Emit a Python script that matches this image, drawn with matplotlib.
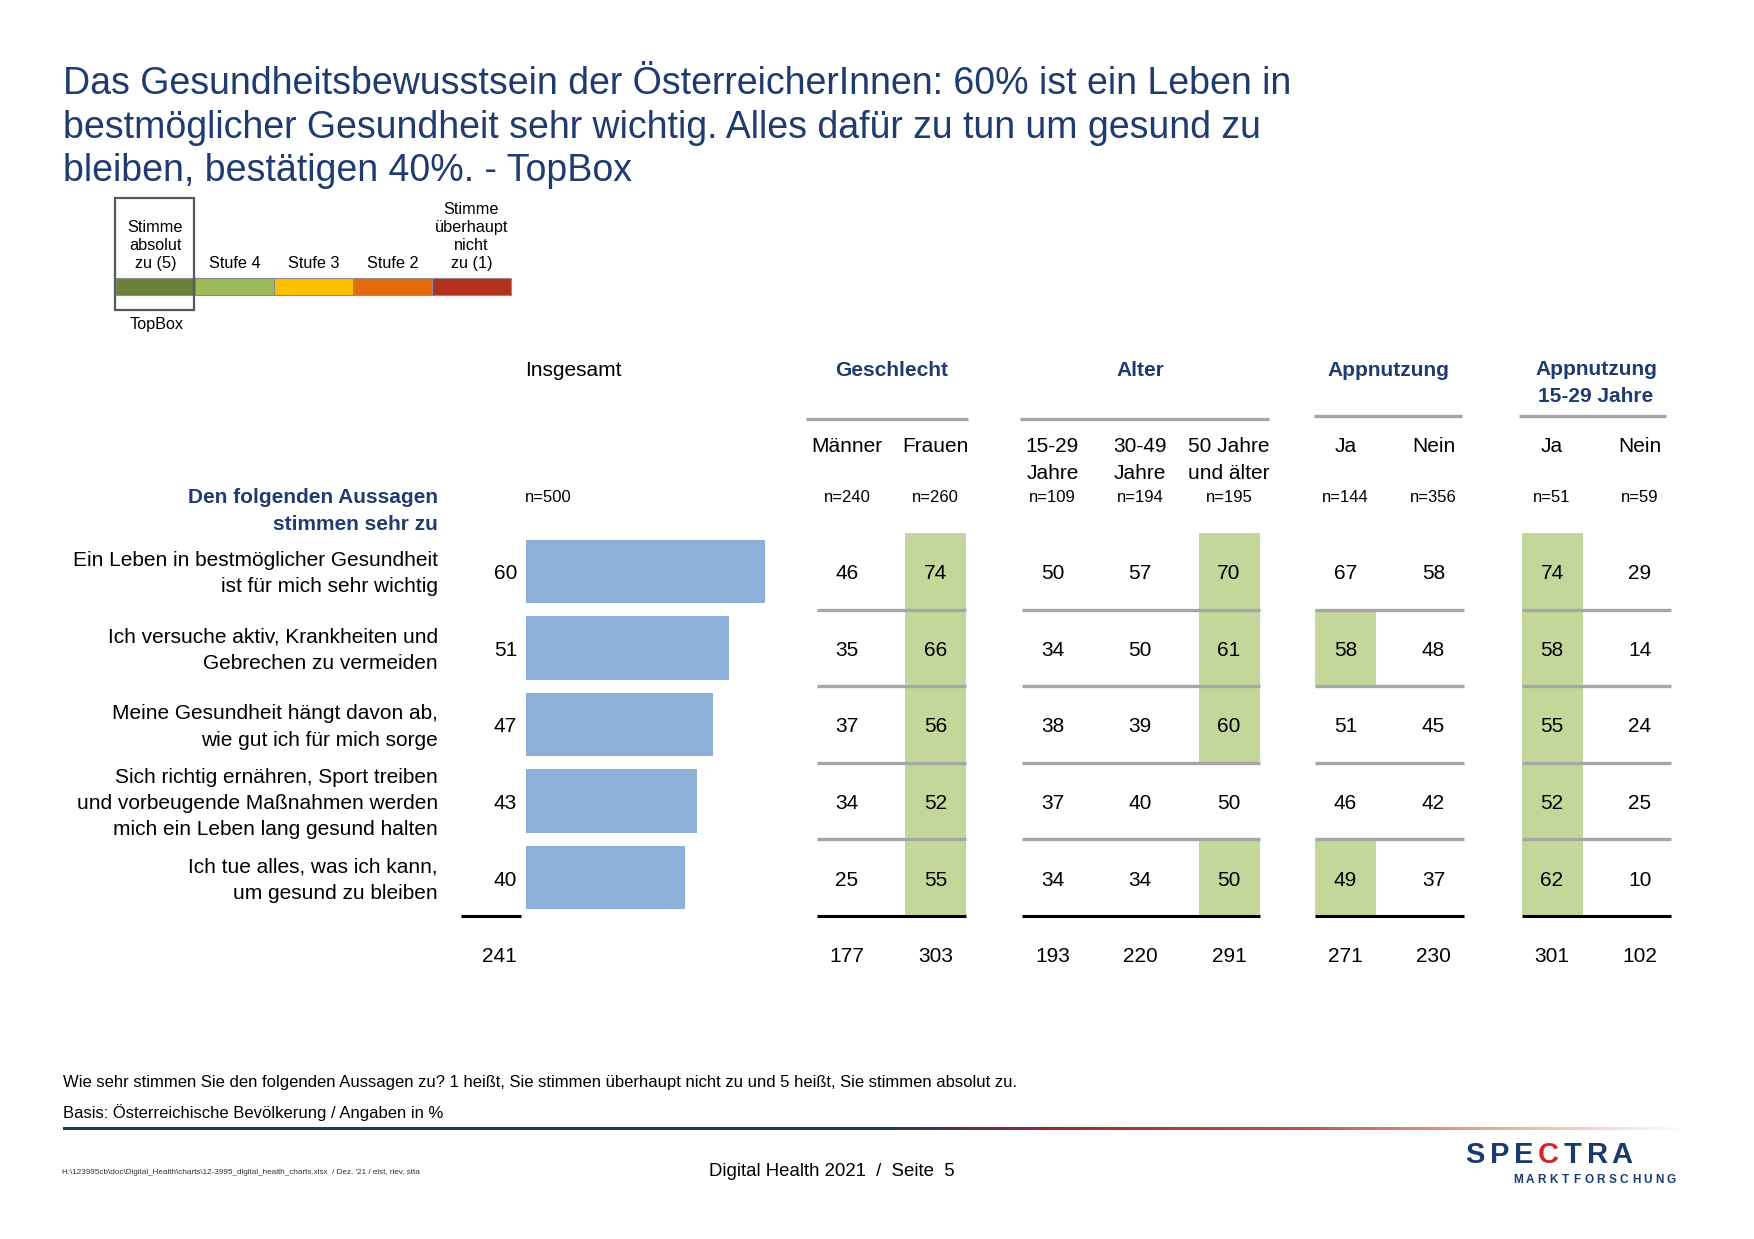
import matplotlib
matplotlib.use("Agg")
import numpy as np
import matplotlib.pyplot as plt
from matplotlib.patches import Rectangle
from matplotlib.colors import LinearSegmentedColormap

plt.rcParams['font.family'] = ['Liberation Sans', 'DejaVu Sans']

# ---------------------------
# Daten
# ---------------------------
title_lines = [
    "Das Gesundheitsbewusstsein der ÖsterreicherInnen: 60% ist ein Leben in",
    "bestmöglicher Gesundheit sehr wichtig. Alles dafür zu tun um gesund zu",
    "bleiben, bestätigen 40%. - TopBox",
]
statements = [
    "Ein Leben in bestmöglicher Gesundheit\nist für mich sehr wichtig",
    "Ich versuche aktiv, Krankheiten und\nGebrechen zu vermeiden",
    "Meine Gesundheit hängt davon ab,\nwie gut ich für mich sorge",
    "Sich richtig ernähren, Sport treiben\nund vorbeugende Maßnahmen werden\nmich ein Leben lang gesund halten",
    "Ich tue alles, was ich kann,\num gesund zu bleiben",
]
insgesamt = [60, 51, 47, 43, 40]
insgesamt_n = 500
insgesamt_sum = 241

col_labels = ["Männer", "Frauen", "15-29\nJahre", "30-49\nJahre", "50 Jahre\nund älter",
              "Ja", "Nein", "Ja", "Nein"]
col_n = [240, 260, 109, 194, 195, 144, 356, 51, 59]
maenner = [46, 35, 37, 34, 25]
frauen = [74, 66, 56, 52, 55]
alter_15_29 = [50, 34, 38, 37, 34]
alter_30_49 = [57, 50, 39, 40, 34]
alter_50 = [70, 61, 60, 50, 50]
app_ja = [67, 58, 51, 46, 49]
app_nein = [58, 48, 45, 42, 37]
app1529_ja = [74, 58, 55, 52, 62]
app1529_nein = [29, 14, 24, 25, 10]
col_values = [maenner, frauen, alter_15_29, alter_30_49, alter_50,
              app_ja, app_nein, app1529_ja, app1529_nein]
col_sums = [177, 303, 193, 220, 291, 271, 230, 301, 102]
# signifikant hoeher (gruen hinterlegt)
highlight = [
    [0, 0, 0, 0, 0],
    [1, 1, 1, 1, 1],
    [0, 0, 0, 0, 0],
    [0, 0, 0, 0, 0],
    [1, 1, 1, 0, 1],
    [0, 1, 0, 0, 1],
    [0, 0, 0, 0, 0],
    [1, 1, 1, 1, 1],
    [0, 0, 0, 0, 0],
]
groups = ["Geschlecht", "Alter", "Appnutzung", "Appnutzung\n15-29 Jahre"]
group_cols = [[0, 1], [2, 3, 4], [5, 6], [7, 8]]

legend_labels = ["Stimme\nabsolut\nzu (5)", "Stufe 4", "Stufe 3", "Stufe 2",
                 "Stimme\nüberhaupt\nnicht\nzu (1)"]
legend_colors = ["#6B813A", "#9BBB59", "#FFC000", "#E36C0A", "#B3301F"]

# ---------------------------
# Layout (Pixel im Original)
# ---------------------------
W, H = 1754, 1239
NAVY = "#1F3B70"
GRAY = "#A6A6A6"
GREEN = "#C4D79B"
BLUE = "#8DB0D9"
ROW_TOP, ROW_H = 533, 76.6
PX_PER_PCT = 3.975
COL_X = [847, 935.5, 1052.4, 1140, 1229, 1345.5, 1433.5, 1552, 1640]
CELL_W = 61
GROUP_HDR_X = [892, 1140.5, 1388.5, 1596]
GROUP_LINE = [(806, 968, 419), (1020, 1269, 419), (1314, 1462, 416), (1519, 1666, 416)]
FS = 15

fig = plt.figure(figsize=(W / 100, H / 100), dpi=100)
ax = fig.add_axes([0, 0, 1, 1])
ax.set_xlim(0, W)
ax.set_ylim(H, 0)
ax.axis("off")

def row_y(i):
    return ROW_TOP + (i + 0.5) * ROW_H + 2.5

# Titel
for k, line in enumerate(title_lines):
    ax.text(63, 94 + k * 43.5, line, fontsize=27, color=NAVY, va="baseline", ha="left")

# Legende
for k, (lab, c) in enumerate(zip(legend_labels, legend_colors)):
    x0 = 116 + k * 79
    ax.add_patch(Rectangle((x0, 278), 79, 17, facecolor=c, edgecolor="#8C8C8C", lw=0.8))
    ax.text(x0 + 39.5, 271, lab, fontsize=11.7, ha="center", va="bottom", linespacing=1.25)
ax.add_patch(Rectangle((115, 198), 79, 112, fill=False, edgecolor="#595959", lw=1.6, zorder=5))
ax.text(157, 325, "TopBox", fontsize=11.7, ha="center", va="center")

# Kopfzeilen
ax.text(573, 370, "Insgesamt", fontsize=FS, ha="center", va="center")
ax.text(548, 498, f"n={insgesamt_n}", fontsize=12, ha="center", va="center")
ax.text(438, 511, "Den folgenden Aussagen\nstimmen sehr zu", fontsize=FS, fontweight="bold",
        color=NAVY, ha="right", va="center", linespacing=1.5)
for g, gx, (x0, x1, ly) in zip(groups, GROUP_HDR_X, GROUP_LINE):
    yc = 383 if "\n" in g else 370
    ax.text(gx, yc, g, fontsize=FS, fontweight="bold", color=NAVY, ha="center", va="center",
            linespacing=1.5)
    ax.plot([x0, x1], [ly, ly], color=GRAY, lw=2.4, solid_capstyle="butt")
for x, lab, n in zip(COL_X, col_labels, col_n):
    yc = 460 if "\n" in lab else 447
    ax.text(x, yc, lab, fontsize=FS, ha="center", va="center", linespacing=1.5)
    ax.text(x, 498, f"n={n}", fontsize=12, ha="center", va="center")

# Aussagen + Insgesamt-Werte
for i, s in enumerate(statements):
    ax.text(438, row_y(i), s, fontsize=15, ha="right", va="center", linespacing=1.48)
    ax.text(517, row_y(i), str(insgesamt[i]), fontsize=FS, ha="right", va="center")
ax.plot([461, 521], [916, 916], color="black", lw=2.2, solid_capstyle="butt")
ax.text(517, 957, str(insgesamt_sum), fontsize=FS, ha="right", va="center")

ax_bar = fig.add_axes([526 / W, 1 - (ROW_TOP + 5 * ROW_H) / H,
                       65 * PX_PER_PCT / W, 5 * ROW_H / H])
ax_bar.barh(range(len(insgesamt)), insgesamt, height=0.83, color=BLUE)
ax_bar.set_xlim(0, 65)
ax_bar.set_ylim(4.5, -0.5)
ax_bar.axis("off")

# Tabelle
for j, (x, vals) in enumerate(zip(COL_X, col_values)):
    for i, v in enumerate(vals):
        if highlight[j][i]:
            ax.add_patch(Rectangle((x - CELL_W / 2, ROW_TOP + i * ROW_H), CELL_W, ROW_H,
                                   facecolor=GREEN, edgecolor="none", zorder=1))
        ax.text(x, row_y(i), str(v), fontsize=FS, ha="center", va="center", zorder=4)
    ax.text(x, 957, str(col_sums[j]), fontsize=FS, ha="center", va="center")

for cols in group_cols:
    x0 = COL_X[cols[0]] - CELL_W / 2
    x1 = COL_X[cols[-1]] + CELL_W / 2
    for i in range(1, len(insgesamt)):
        yy = ROW_TOP + i * ROW_H
        ax.plot([x0, x1], [yy, yy], color=GRAY, lw=2.4, zorder=3, solid_capstyle="butt")
    ax.plot([x0, x1], [916, 916], color="black", lw=2.2, zorder=3, solid_capstyle="butt")

# Fusszeile
ax.text(63, 1083, "Wie sehr stimmen Sie den folgenden Aussagen zu? 1 heißt, Sie stimmen überhaupt "
        "nicht zu und 5 heißt, Sie stimmen absolut zu.", fontsize=12, ha="left", va="center")
ax.text(63, 1113, "Basis: Österreichische Bevölkerung / Angaben in %", fontsize=12,
        ha="left", va="center")

cmap = LinearSegmentedColormap.from_list(
    "foot", [(0, "#1F3864"), (0.5, "#1F3864"), (0.61, "#9E2A36"), (0.76, "#C0504D"),
             (0.88, "#E6AA98"), (1, "#FFFFFF")])
ax.imshow(np.linspace(0, 1, 512)[None, :], cmap=cmap, aspect="auto",
          extent=(63, 1690, 1130, 1127), interpolation="bilinear", zorder=2)
ax.set_xlim(0, W)
ax.set_ylim(H, 0)

ax.text(832, 1172, "Digital Health 2021  /  Seite  5", fontsize=13.4, ha="center", va="center")
ax.text(62, 1172, "H:\\123995cb\\doc\\Digital_Health\\charts\\12-3995_digital_health_charts.xlsx"
        "  / Dez. '21 / elst, rlev, stta", fontsize=5.9, ha="left", va="center", color="#333333")

for k, ch in enumerate("SPECTRA"):
    ax.text(1475 + k * 24.5, 1155, ch, fontsize=21, fontweight="bold",
            color="#D9232A" if ch == "C" else "#1B3A6B", ha="center", va="center")
for k, ch in enumerate("MARKTFORSCHUNG"):
    ax.text(1518 + k * 11.8, 1180, ch, fontsize=8.5, fontweight="bold", color="#1B3A6B",
            ha="center", va="center")

fig.savefig("out.png", dpi=100, facecolor="white")
